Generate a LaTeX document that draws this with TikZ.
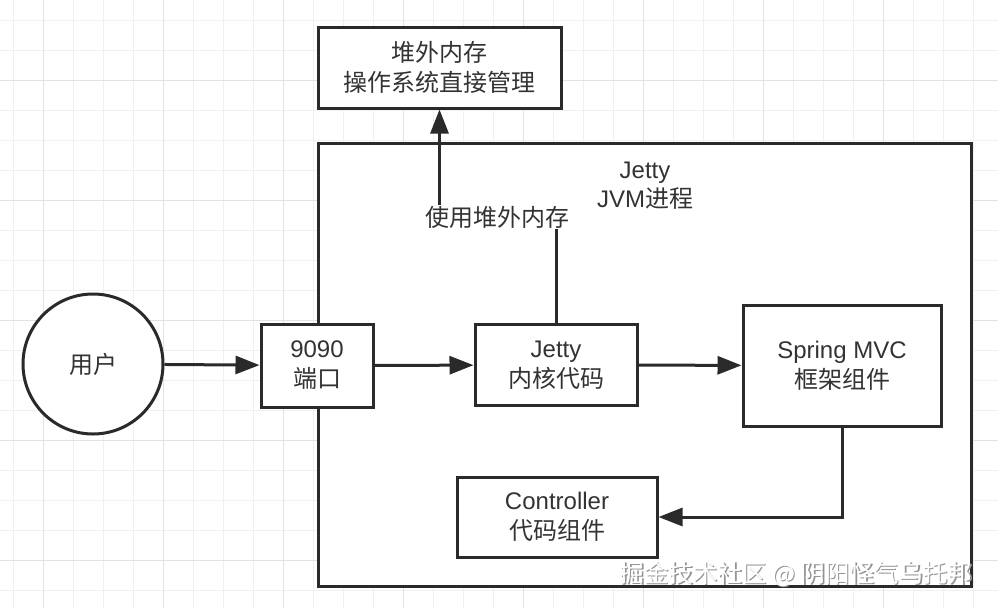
\documentclass[tikz,border=0pt]{standalone}
\usepackage{fontspec}
\setmainfont{Liberation Sans}
\newfontfamily\cjk{Noto Sans CJK SC}
\usetikzlibrary{arrows.meta}
\definecolor{inkgray}{RGB}{42,42,42}
\definecolor{textgray}{RGB}{51,51,51}
\definecolor{gridlight}{RGB}{240,240,240}
\definecolor{griddark}{RGB}{226,226,226}
\begin{document}
\begin{tikzpicture}[x=1pt, y=-1pt,
  box/.style={draw=inkgray, line width=3pt, fill=white, inner sep=0pt,
    text=textgray, align=center, font=\fontsize{24}{30}\selectfont},
  link/.style={draw=inkgray, line width=3pt, -{Triangle[length=24pt,width=18pt]}},
  plain/.style={text=textgray, align=center, font=\fontsize{24}{29}\selectfont}]
\useasboundingbox (0,0) rectangle (998,608);
% background grid
\foreach \x in {13.3,43.3,...,998} \draw [gridlight, line width=1pt] (\x,0) -- (\x,608);
\foreach \y in {20,50,...,608} \draw [gridlight, line width=1pt] (0,\y) -- (998,\y);
\foreach \x in {43.3,163.3,...,998} \draw [griddark, line width=1pt] (\x,0) -- (\x,608);
\foreach \y in {80,200,...,608} \draw [griddark, line width=1pt] (0,\y) -- (998,\y);
% boxes
\node [box, minimum width=653, minimum height=443] (jvm) at (644.5,364.5) {};
\node [plain] (jvmlbl) at (645,186) {Jetty\\JVM{\cjk 进程}};
\node [box, minimum width=243, minimum height=81] (heap) at (439.5,67.5) {{\cjk 堆外内存}\\{\cjk 操作系统直接管理}};
\node [box, circle, minimum size=140] (user) at (93,364) {{\cjk 用户}};
\node [box, minimum width=112, minimum height=83] (port) at (317,365.5) {9090\\{\cjk 端口}};
\node [box, minimum width=162, minimum height=81] (core) at (556,365) {Jetty\\{\cjk 内核代码}};
\node [box, minimum width=198, minimum height=121] (spring) at (842,365.5) {Spring MVC\\{\cjk 框架组件}};
\node [box, minimum width=200, minimum height=80] (ctrl) at (557,517) {Controller\\{\cjk 代码组件}};
% connectors
\draw [link] (user) -- (port);
\draw [link] (port) -- (core);
\draw [link] (core) -- (spring);
\draw [link] (spring.south) |- (ctrl.east);
\coordinate (usebend) at (497,217);
\draw [link] (core.north) |- (usebend) -| (heap.south);
\node [plain, fill=white, inner sep=1pt] (uselbl) at (usebend) {{\cjk 使用堆外内存}};
% watermark
\node [anchor=west, text=gray!85, font=\fontsize{24.5}{28}\selectfont] (markshadow) at (617.5,575.5) {{\cjk 掘金技术社区 @ 阴阳怪气乌托邦}};
\node [anchor=west, text=white, font=\fontsize{24.5}{28}\selectfont] (mark) at (616,574) {{\cjk 掘金技术社区 @ 阴阳怪气乌托邦}};
\end{tikzpicture}
\end{document}
